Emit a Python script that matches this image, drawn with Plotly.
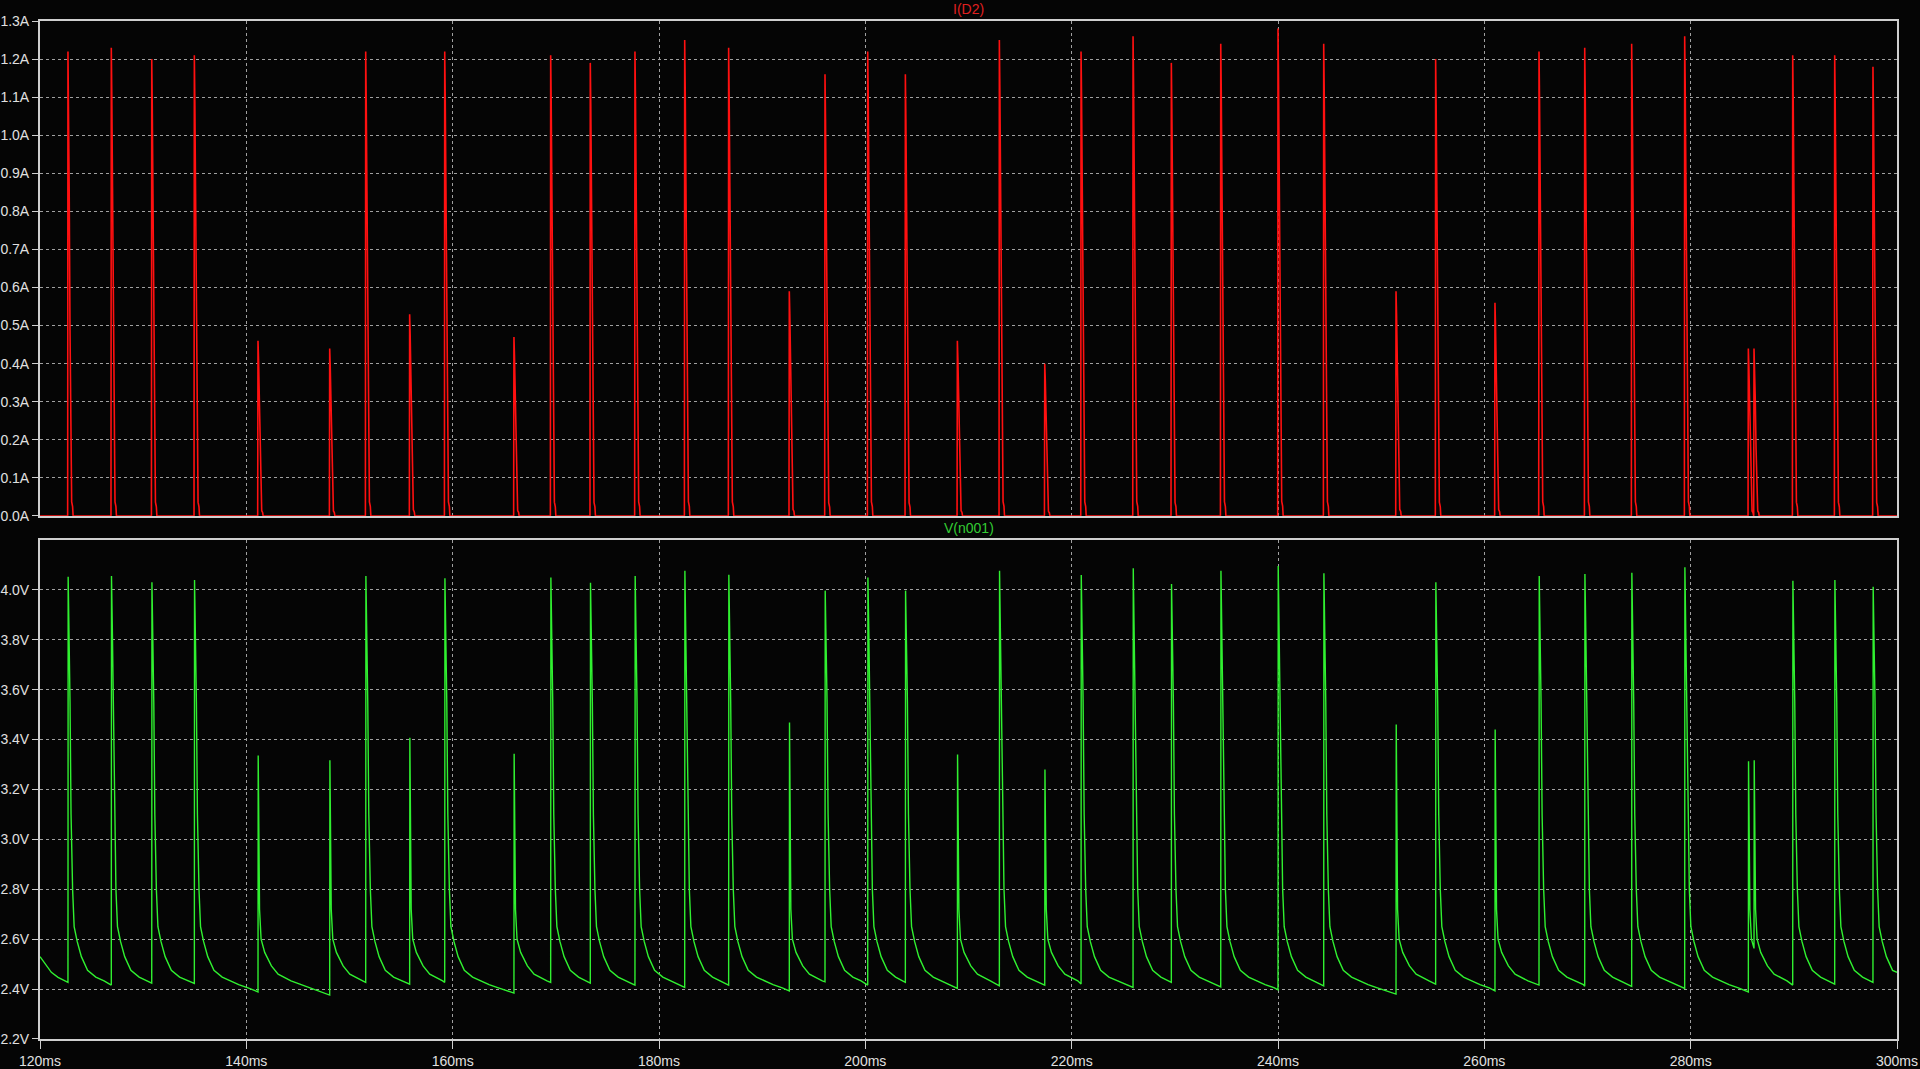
import plotly.graph_objects as go

# ---------------- data ----------------
# spike instants (ms)
spike_t = [122.71, 126.91, 130.83, 134.96, 141.13, 148.08, 151.57, 155.83, 159.23, 165.94,
           169.50, 173.34, 177.67, 182.49, 186.75, 192.63, 196.09, 200.23, 203.88, 208.92,
           212.99, 217.39, 220.91, 225.95, 229.66, 234.45, 240.00, 244.43, 251.44, 255.28,
           261.03, 265.30, 269.73, 274.28, 279.42, 285.59, 286.14, 289.89, 293.96, 297.67]
# I(D2) peak of each spike (A)
i_peak = [1.22, 1.23, 1.20, 1.21, 0.46, 0.44, 1.22, 0.53, 1.22, 0.47,
          1.21, 1.19, 1.22, 1.25, 1.23, 0.59, 1.16, 1.22, 1.16, 0.46,
          1.25, 0.40, 1.22, 1.26, 1.19, 1.24, 1.28, 1.24, 0.59, 1.20,
          0.56, 1.22, 1.23, 1.24, 1.26, 0.44, 0.44, 1.21, 1.21, 1.18]
# V(n001) peak of each spike (V)
v_peak = [4.053, 4.056, 4.031, 4.040, 3.336, 3.317, 4.056, 3.407, 4.047, 3.343,
          4.050, 4.029, 4.056, 4.077, 4.061, 3.468, 3.997, 4.050, 3.997, 3.340,
          4.077, 3.280, 4.060, 4.087, 4.024, 4.077, 4.096, 4.067, 3.460, 4.031,
          3.440, 4.056, 4.064, 4.069, 4.091, 3.313, 3.317, 4.037, 4.040, 4.013]
# V(n001) just before each spike (V)
v_min = [2.427, 2.416, 2.424, 2.423, 2.389, 2.376, 2.427, 2.420, 2.427, 2.384,
         2.427, 2.424, 2.416, 2.407, 2.416, 2.393, 2.429, 2.416, 2.427, 2.403,
         2.413, 2.416, 2.420, 2.407, 2.427, 2.409, 2.397, 2.413, 2.380, 2.420,
         2.393, 2.416, 2.411, 2.411, 2.403, 2.389, 2.563, 2.416, 2.420, 2.427]

# voltage before the first spike and at the right edge
lead_t = [120.0, 121.1, 121.75]
lead_v = [2.530, 2.467, 2.447]
end_t = 300.0
end_v = 2.467

# decay read after a large spike (ms after spike, V)
big_off = [0.1, 0.2, 0.3, 0.45, 0.6, 0.9, 1.3, 1.9, 2.7, 3.5, 4.3, 5.2, 6.2, 7.2]
big_v = [3.85, 3.55, 3.10, 2.80, 2.65, 2.59, 2.53, 2.475, 2.448, 2.433, 2.418, 2.405, 2.392, 2.380]
# decay read after a small spike
small_off = [0.07, 0.15, 0.3, 0.65, 1.3, 1.95, 3.2, 4.5, 5.5, 6.8]
small_v = [2.96, 2.72, 2.60, 2.547, 2.493, 2.46, 2.433, 2.413, 2.400, 2.380]

# current pulse shape (ms after spike, fraction of peak)
cur_off = [-0.03, 0.0, 0.05, 0.12, 0.2, 0.28, 0.36, 0.45, 0.5]
cur_frac = [0.0, 1.0, 0.9, 0.7, 0.4, 0.12, 0.03, 0.02, 0.0]

x_ticks = [120, 140, 160, 180, 200, 220, 240, 260, 280, 300]
i_ticks = [0.0, 0.1, 0.2, 0.3, 0.4, 0.5, 0.6, 0.7, 0.8, 0.9, 1.0, 1.1, 1.2, 1.3]
v_ticks = [2.2, 2.4, 2.6, 2.8, 3.0, 3.2, 3.4, 3.6, 3.8, 4.0]

# ---------------- build traces ----------------
vt, vv = list(lead_t), list(lead_v)
n = len(spike_t)
for i, t0 in enumerate(spike_t):
    vt += [t0, t0 + 0.02]
    vv += [v_min[i], v_peak[i]]
    t_next = spike_t[i + 1] if i + 1 < n else end_t + 0.2
    offs, vals = (big_off, big_v) if v_peak[i] >= 3.6 else (small_off, small_v)
    for o, v in zip(offs, vals):
        if t0 + o < t_next - 0.08:
            vt.append(t0 + o)
            vv.append(v)
vt.append(end_t)
vv.append(end_v)

ct, cv = [120.0], [0.0]
for t0, p in zip(spike_t, i_peak):
    for o, f in zip(cur_off, cur_frac):
        ct.append(t0 + o)
        cv.append(f * p)
ct.append(300.0)
cv.append(0.0)

RED = "#ff1010"
GREEN = "#30f030"
FRAME = "#cfcfcf"
GRID = "#a0a0a0"
TXT = "#e0e0e0"
FONT = "Liberation Sans, Arial, sans-serif"

fig = go.Figure()
fig.add_trace(go.Scatter(x=ct, y=cv, mode="lines", line=dict(color=RED, width=1.6),
                         xaxis="x", yaxis="y", hoverinfo="skip"))
fig.add_trace(go.Scatter(x=vt, y=vv, mode="lines", line=dict(color=GREEN, width=1.4),
                         xaxis="x2", yaxis="y2", hoverinfo="skip"))

common = dict(showline=True, mirror=True, linecolor=FRAME, linewidth=2,
              showgrid=True, gridcolor=GRID, griddash="3px,3px", gridwidth=1,
              zeroline=False, automargin=False,
              tickfont=dict(family=FONT, size=14, color=TXT),
              tickcolor=FRAME, tickwidth=1)

fig.update_layout(
    width=1920, height=1069,
    paper_bgcolor="#050505", plot_bgcolor="#050505",
    margin=dict(l=40, r=23, t=21, b=30),
    showlegend=False,
    xaxis=dict(domain=[0, 1], anchor="y", range=[120, 300], tickvals=x_ticks,
               showticklabels=False, ticks="", **common),
    yaxis=dict(domain=[0.5138, 1], anchor="x", range=[0, 1.3], tickvals=i_ticks,
               ticktext=[f"{v:.1f}A" for v in i_ticks], ticks="outside", ticklen=6,
               ticklabelstandoff=0, **common),
    xaxis2=dict(domain=[0, 1], anchor="y2", range=[120, 300], tickvals=x_ticks,
                ticktext=[f"{v}ms" for v in x_ticks], ticks="outside", ticklen=8,
                ticklabelstandoff=0, **common),
    yaxis2=dict(domain=[0, 0.4902], anchor="x2", range=[2.2, 4.2], tickvals=v_ticks,
                ticktext=[f"{v:.1f}V" for v in v_ticks], ticks="outside", ticklen=6,
                ticklabelstandoff=0, **common),
    annotations=[
        dict(text="I(D2)", xref="paper", yref="paper", x=0.5, y=1.0, yanchor="middle",
             yshift=12, showarrow=False, font=dict(family=FONT, size=14, color="#e02020")),
        dict(text="V(n001)", xref="paper", yref="paper", x=0.5, y=0.4902, yanchor="middle",
             yshift=12, showarrow=False, font=dict(family=FONT, size=14, color="#33cc33")),
    ],
)

fig.write_html("out.html", config={"displayModeBar": False},
               post_script="document.body.style.margin='0';document.body.style.overflow='hidden';document.body.style.background='#050505';")
